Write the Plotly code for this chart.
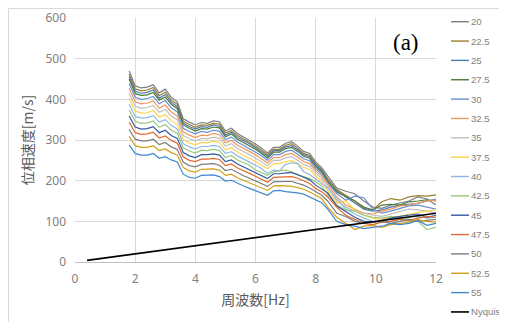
import plotly.graph_objects as go

# ---------------- data ----------------
freq_a = [1.8, 2.0, 2.2, 2.4, 2.6, 2.8, 3.0, 3.2, 3.4, 3.6, 3.8, 4.0, 4.2, 4.4, 4.6, 4.8,
          5.0, 5.2, 5.4, 5.6, 5.8, 6.0, 6.2, 6.4, 6.6, 6.8, 7.0, 7.2, 7.4, 7.6, 7.8, 8.0, 8.2]
freq_b = [8.4, 8.7, 9.0, 9.3, 9.6, 9.9, 10.2, 10.5, 10.8, 11.1, 11.4, 11.7, 12.0]
freq = freq_a + freq_b

series_names = ["20", "22.5", "25", "27.5", "30", "32.5", "35", "37.5",
                "40", "42.5", "45", "47.5", "50", "52.5", "55"]

v_20 = [470, 433, 428, 430, 436, 416, 425, 405, 394, 352, 344, 337, 343, 341, 347, 345,
        322, 329, 316, 308, 300, 290, 280, 268, 282, 282, 292, 296, 285, 272, 267, 246, 232,
        212, 182, 174, 168, 150, 135, 132, 140, 145, 150, 160, 155, 140]
v_22_5 = [462, 426, 421, 423, 429, 409, 418, 398, 388, 346, 338, 331, 337, 336, 341, 339,
          317, 323, 311, 303, 295, 285, 275, 264, 277, 277, 287, 291, 280, 267, 262, 242, 228,
          205, 178, 165, 150, 132, 128, 148, 156, 152, 160, 163, 162, 165]
v_25 = [456, 420, 415, 417, 423, 403, 412, 393, 382, 341, 333, 327, 333, 331, 337, 334,
        312, 319, 306, 299, 291, 281, 271, 260, 274, 274, 283, 286, 276, 264, 259, 239, 225,
        200, 175, 160, 145, 130, 125, 128, 135, 140, 142, 144, 150, 155]
v_27_5 = [450, 414, 410, 411, 417, 398, 406, 388, 377, 337, 329, 322, 328, 327, 332, 330,
          308, 315, 302, 294, 287, 277, 267, 256, 270, 270, 279, 282, 272, 260, 255, 235, 222,
          198, 172, 162, 150, 135, 128, 140, 142, 140, 148, 150, 153, 150]
v_30 = [439, 405, 400, 402, 407, 389, 397, 379, 369, 329, 321, 315, 321, 319, 324, 322,
        301, 307, 295, 287, 280, 270, 261, 250, 264, 264, 272, 275, 265, 254, 249, 230, 217,
        195, 168, 152, 162, 158, 130, 120, 125, 132, 138, 140, 135, 130]
v_32_5 = [427, 394, 389, 391, 396, 378, 386, 369, 359, 320, 312, 306, 312, 311, 316, 313,
          293, 299, 287, 280, 272, 263, 254, 244, 257, 257, 264, 267, 258, 247, 242, 224, 212,
          190, 160, 140, 130, 120, 118, 125, 130, 138, 140, 145, 150, 152]
v_35 = [415, 383, 378, 380, 385, 368, 375, 359, 350, 311, 303, 298, 304, 303, 307, 304,
        285, 291, 279, 272, 264, 255, 246, 237, 250, 250, 256, 259, 250, 240, 235, 218, 206,
        185, 150, 135, 125, 120, 115, 112, 118, 125, 130, 128, 125, 120]
v_37_5 = [402, 371, 366, 367, 373, 356, 363, 347, 338, 301, 293, 288, 294, 293, 297, 294,
          276, 281, 270, 263, 255, 247, 238, 229, 242, 242, 247, 249, 242, 233, 227, 211, 200,
          175, 145, 150, 128, 115, 108, 105, 110, 112, 118, 122, 125, 128]
v_40 = [388, 358, 354, 355, 360, 344, 350, 336, 327, 291, 283, 278, 284, 284, 287, 284,
        267, 271, 261, 254, 246, 238, 230, 218, 226, 224, 240, 244, 242, 222, 215, 204, 193,
        182, 155, 130, 118, 108, 100, 98, 100, 105, 110, 112, 108, 110]
v_42_5 = [374, 346, 341, 342, 347, 331, 338, 324, 316, 281, 273, 268, 275, 274, 277, 274,
          257, 262, 251, 244, 238, 226, 219, 213, 222, 224, 226, 222, 214, 210, 205, 197, 187,
          165, 140, 128, 125, 115, 110, 108, 112, 110, 105, 100, 80, 85]
v_45 = [359, 332, 327, 328, 333, 318, 324, 311, 304, 269, 261, 257, 264, 264, 266, 263,
        247, 251, 241, 234, 227, 220, 212, 205, 217, 217, 219, 220, 215, 208, 202, 189, 180,
        170, 138, 125, 110, 100, 98, 102, 108, 112, 115, 118, 110, 115]
v_47_5 = [344, 318, 314, 315, 319, 305, 310, 299, 292, 258, 250, 247, 253, 253, 255, 252,
          237, 241, 231, 225, 218, 211, 203, 196, 208, 209, 210, 210, 206, 200, 193, 181, 173,
          160, 135, 115, 105, 95, 92, 98, 100, 105, 102, 108, 112, 110]
v_50 = [326, 302, 298, 298, 302, 289, 294, 283, 277, 245, 237, 234, 240, 241, 242, 238,
        225, 228, 219, 212, 206, 199, 192, 186, 197, 198, 198, 198, 194, 189, 182, 172, 164,
        150, 120, 112, 100, 95, 98, 100, 95, 100, 105, 100, 102, 105]
v_52_5 = [309, 286, 282, 282, 286, 274, 278, 269, 263, 232, 224, 221, 228, 229, 229, 226,
          213, 216, 207, 201, 195, 188, 181, 176, 187, 188, 187, 186, 183, 179, 172, 163, 156,
          135, 110, 95, 80, 88, 90, 85, 92, 95, 98, 104, 100, 98]
v_55 = [288, 267, 263, 263, 267, 255, 259, 251, 246, 216, 208, 206, 213, 214, 214, 210,
        199, 201, 193, 187, 181, 175, 168, 164, 175, 176, 173, 172, 170, 167, 160, 152, 146,
        130, 100, 92, 88, 82, 85, 88, 95, 92, 95, 102, 90, 95]

series_values = [v_20, v_22_5, v_25, v_27_5, v_30, v_32_5, v_35, v_37_5,
                 v_40, v_42_5, v_45, v_47_5, v_50, v_52_5, v_55]

nyquist_f = [0.4, 1, 2, 3, 4, 5, 6, 7, 8, 9, 10, 11, 12]
nyquist_v = [4, 10, 20, 30, 40, 50, 60, 70, 80, 90, 100, 110, 120]

x_ticks = [0, 2, 4, 6, 8, 10, 12]
y_ticks = [0, 100, 200, 300, 400, 500, 600]

# ---------------- style ----------------
colors = ["#7f7f7f", "#9c7e2e", "#4f7bb5", "#4d7a35", "#698ed0", "#f1975a", "#c0c0c0",
          "#ffd24d", "#8ab8e2", "#98c97a", "#335aa1", "#e06a2c", "#7c7c7c", "#d4a017",
          "#3f88cf"]

OFF = 8                        # page body margin of the html page
W, H = 507 - OFF, 322 - OFF    # figure size so that the page fits the window
L, R, T, B = 75, 436, 18, 262  # plot area in page pixels


def px_x(px):
    return (px - L) / (R - L)


def px_y(py):
    return (B - py) / (B - T)


fig = go.Figure()
for name, vals, col in zip(series_names, series_values, colors):
    fig.add_trace(go.Scatter(x=freq, y=vals, mode="lines", name=name,
                             line=dict(color=col, width=1.2), showlegend=False))
fig.add_trace(go.Scatter(x=nyquist_f, y=nyquist_v, mode="lines", name="Nyquist",
                         line=dict(color="#000000", width=1.6), showlegend=False))

shapes = []
annotations = []
# chart border
shapes.append(dict(type="rect", xref="paper", yref="paper",
                   x0=px_x(8.5), x1=px_x(540), y0=px_y(8.5), y1=px_y(360),
                   line=dict(color="#d9d9d9", width=1), fillcolor="rgba(0,0,0,0)",
                   layer="below"))

legend_names = series_names + ["Nyquist"]
legend_colors = colors + ["#000000"]
for i, (nm, col) in enumerate(zip(legend_names, legend_colors)):
    yy = 21.7 + i * 19.35
    shapes.append(dict(type="line", xref="paper", yref="paper",
                       x0=px_x(451), x1=px_x(469), y0=px_y(yy), y1=px_y(yy),
                       line=dict(color=col, width=1.6 if nm == "Nyquist" else 1.4)))
    annotations.append(dict(text=nm, xref="paper", yref="paper", x=px_x(469), y=px_y(yy),
                            xanchor="left", yanchor="middle", showarrow=False,
                            font=dict(family="Liberation Sans", size=9.6, color="#7f7f7f")))

annotations.append(dict(text="(a)", xref="paper", yref="paper", x=px_x(406), y=px_y(43),
                        xanchor="center", yanchor="middle", showarrow=False,
                        font=dict(family="Liberation Serif", size=23, color="#000000")))

fig.update_layout(
    width=W, height=H,
    margin=dict(l=L - OFF, r=W - (R - OFF), t=T - OFF, b=H - (B - OFF)),
    paper_bgcolor="white", plot_bgcolor="white",
    shapes=shapes, annotations=annotations,
    showlegend=False,
    xaxis=dict(range=[0, 12], tickvals=x_ticks, ticktext=[str(t) for t in x_ticks],
               automargin=False,
               showgrid=True, gridcolor="#d9d9d9", gridwidth=1, zeroline=False,
               showline=True, linecolor="#bfbfbf", linewidth=1, ticks="",
               ticklabelstandoff=6,
               tickfont=dict(family="Noto Sans", size=12, color="#7f7f7f"),
               title=dict(text="周波数[Hz]", standoff=8,
                          font=dict(family="Noto Sans CJK JP", size=14, color="#595959"))),
    yaxis=dict(range=[0, 600], tickvals=y_ticks, ticktext=[str(t) for t in y_ticks],
               automargin=False,
               showgrid=True, gridcolor="#d9d9d9", gridwidth=1, zeroline=False,
               showline=False, ticks="", ticklabelstandoff=8,
               tickfont=dict(family="Noto Sans", size=12, color="#7f7f7f"),
               title=dict(text="位相速度[m/s]", standoff=8,
                          font=dict(family="Noto Sans CJK JP", size=14, color="#595959"))),
)

fig.write_html("out.html")
